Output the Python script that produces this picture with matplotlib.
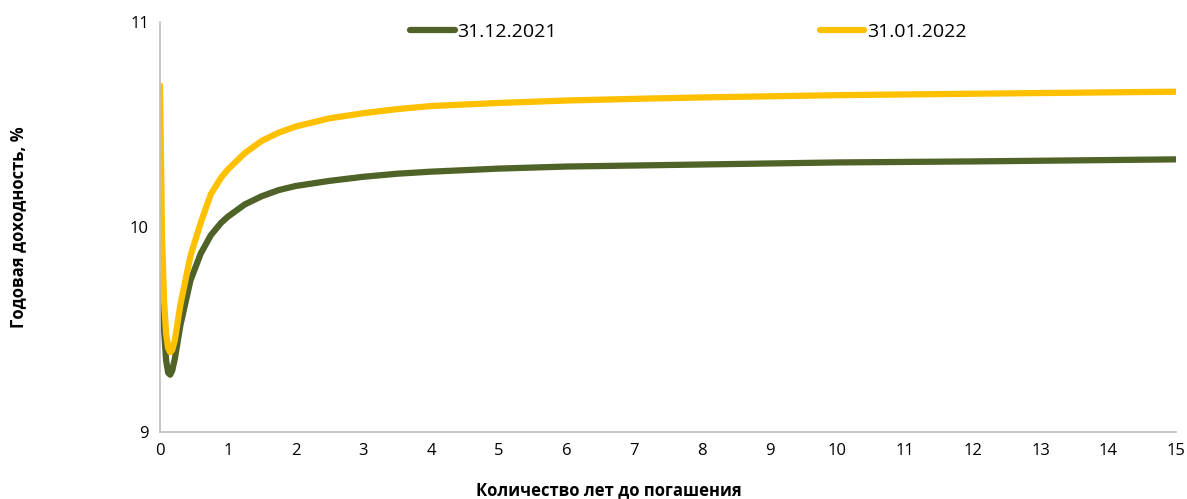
import numpy as np
import matplotlib.pyplot as plt

# years to maturity
years = [0, 0.03, 0.06, 0.09, 0.12, 0.15, 0.18, 0.22, 0.3, 0.45, 0.6, 0.75, 0.9, 1.0,
         1.25, 1.5, 1.75, 2, 2.5, 3, 3.5, 4, 5, 6, 7, 8, 10, 12, 15]
# yield curves, %
y_2021 = [10.05, 9.75, 9.5, 9.35, 9.29, 9.28, 9.30, 9.36, 9.52, 9.74, 9.87, 9.96,
          10.02, 10.05, 10.11, 10.15, 10.18, 10.20, 10.225, 10.245, 10.26, 10.27,
          10.285, 10.295, 10.30, 10.305, 10.315, 10.32, 10.33]
y_2022 = [10.69, 9.95, 9.64, 9.48, 9.41, 9.39, 9.40, 9.45, 9.62, 9.86, 10.02, 10.16,
          10.24, 10.28, 10.36, 10.42, 10.46, 10.49, 10.53, 10.555, 10.575, 10.59,
          10.605, 10.617, 10.625, 10.632, 10.643, 10.65, 10.66]
labels = ['31.12.2021', '31.01.2022']

plt.rcParams['font.family'] = ['Open Sans', 'DejaVu Sans']

fig = plt.figure(figsize=(11.87, 4.99), dpi=100)
ax = fig.add_axes([0.1348, 0.134, 0.856, 0.822])

ax.plot(years, y_2021, color='#4F6228', lw=4.5, solid_capstyle='round',
        solid_joinstyle='round', label=labels[0])
ax.plot(years, y_2022, color='#FFC000', lw=4.5, solid_capstyle='round',
        solid_joinstyle='round', label=labels[1])

ax.set_xlim(0, 15)
ax.set_ylim(9, 11)
ax.set_xticks(range(0, 16))
ax.set_yticks([9, 10, 11])

for s in ['top', 'right']:
    ax.spines[s].set_visible(False)
for s in ['left', 'bottom']:
    ax.spines[s].set_color('#BFBFBF')
    ax.spines[s].set_linewidth(1.2)
ax.tick_params(length=0, labelsize=12, pad=8)

ax.set_xlabel('Количество лет до погашения', fontsize=12, fontweight='bold')
ax.set_ylabel('Годовая доходность, %', fontsize=12, fontweight='bold')
ax.xaxis.set_label_coords(0.442, -0.141)
ax.xaxis.label.set_va('center')
ax.yaxis.set_label_coords(-0.14, 0.5)
ax.yaxis.label.set_va('center')

ax.legend(loc='center', bbox_to_anchor=(0.52, 0.976), ncol=2, frameon=False,
          fontsize=14, handlelength=2.3, handletextpad=0.15, columnspacing=13.5,
          borderaxespad=0)

fig.savefig('out.png', dpi=100)
